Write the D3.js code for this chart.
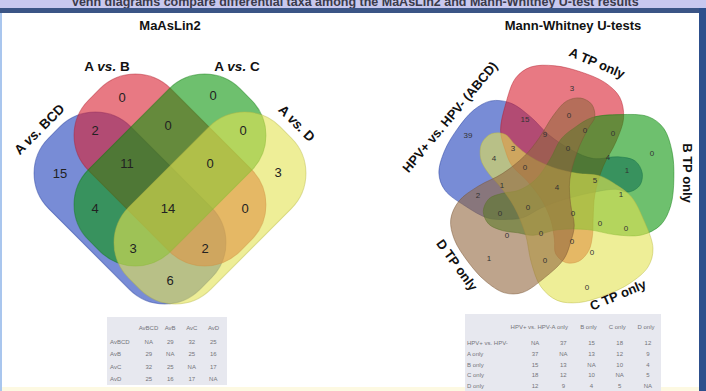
<!DOCTYPE html>
<html>
<head>
<meta charset="utf-8">
<script src="https://cdn.jsdelivr.net/npm/d3@7"></script>
<style>
  html, body { margin: 0; padding: 0; background: #ffffff; }
  svg { display: block; }
</style>
</head>
<body>
<script>
// ---------- data ----------
// MaAsLin2: four comparison sets and the counts of their Venn regions
const maaslinSets = ["A vs. BCD", "A vs. B", "A vs. C", "A vs. D"];
const maaslinRegions = ["1000", "0100", "0010", "0001", "1100", "0110", "0011",
                        "1110", "0111", "1010", "1111", "0101", "1011", "1101", "1001"];
const maaslinCounts = [15, 0, 0, 3, 2, 0, 0, 11, 0, 4, 14, 0, 3, 2, 6];

// Mann-Whitney U-tests: five sets, region counts (read top to bottom)
const mwSets = ["HPV+ vs. HPV- (ABCD)", "A TP only", "B TP only", "C TP only", "D TP only"];
const mwCounts = [3, 15, 0, 39, 9, 0, 0, 0, 4, 3, 0, 4, 1, 0, 1, 4, 5, 2, 1,
                  0, 0, 0, 0, 0, 0, 0, 0, 0, 1, 0, 0];

// pairwise overlap tables
const maaslinTableCols = ["AvBCD", "AvB", "AvC", "AvD"];
const maaslinTableRows = ["AvBCD", "AvB", "AvC", "AvD"];
const maaslinTableValues = [
  ["NA", 29, 32, 25],
  [29, "NA", 25, 16],
  [32, 25, "NA", 17],
  [25, 16, 17, "NA"]
];
const mwTableCols = ["HPV+ vs. HPV-", "A only", "B only", "C only", "D only"];
const mwTableRows = ["HPV+ vs. HPV-", "A only", "B only", "C only", "D only"];
const mwTableValues = [
  ["NA", 37, 15, 18, 12],
  [37, "NA", 13, 12, 9],
  [15, 13, "NA", 10, 4],
  [18, 12, 10, "NA", 5],
  [12, 9, 4, 5, "NA"]
];

// ---------- styles & layout ----------
const W = 706, H = 391;
const FONT = "Liberation Sans, Arial, Helvetica, sans-serif";
const palette = {
  blue: "#1e3fba", red: "#d92030", green: "#0e960e", yellow: "#e3e352", brown: "#93683f"
};
const FILL_OPACITY = 0.6;

const svg = d3.select("body").append("svg")
  .attr("width", W).attr("height", H)
  .attr("font-family", FONT);

// page frame
svg.append("rect").attr("width", W).attr("height", H).attr("fill", "#ffffff");
svg.append("rect").attr("x", 0).attr("y", 0).attr("width", W).attr("height", 9).attr("fill", "#c8c8ef");
svg.append("text")
  .attr("x", 355).attr("y", 5.5).attr("text-anchor", "middle")
  .attr("font-size", 12.5).attr("font-weight", "bold").attr("fill", "#3a3a4a")
  .text("Venn diagrams compare differential taxa among the MaAsLin2 and Mann-Whitney U-test results");
svg.append("rect").attr("x", 0).attr("y", 8).attr("width", W).attr("height", 5).attr("fill", "#3b5586");
svg.append("rect").attr("x", 0).attr("y", 13).attr("width", 2).attr("height", H - 13).attr("fill", "#a9c6ee");
svg.append("rect").attr("x", 699).attr("y", 8).attr("width", 7).attr("height", H - 8).attr("fill", "#2d4f8c");
svg.append("rect").attr("x", 2).attr("y", 387).attr("width", 697).attr("height", 4).attr("fill", "#fdf9e2");

// panel titles
svg.append("text").attr("x", 170).attr("y", 30).attr("text-anchor", "middle")
  .attr("font-size", 13).attr("font-weight", "bold").attr("fill", "#111").text("MaAsLin2");
svg.append("text").attr("x", 573).attr("y", 30).attr("text-anchor", "middle")
  .attr("font-size", 13).attr("font-weight", "bold").attr("fill", "#111").text("Mann-Whitney U-tests");

function strokeOf(c) { return d3.color(c).darker(0.6).formatHex(); }

// ---------- left: four-set diagram ----------
(function drawMaaslin() {
  const x = d3.scaleLinear().domain([-140, 140]).range([30, 310]);
  const y = d3.scaleLinear().domain([-140, 140]).range([45, 325]);
  const g = svg.append("g");

  // each set is a rounded bar tilted by 45 degrees
  const setColors = [palette.blue, palette.red, palette.green, palette.yellow];
  const setGeom = [
    { cx: -40, cy: 23, rot: 45 },
    { cx: 0, cy: -15, rot: 45 },
    { cx: 0, cy: -15, rot: -45 },
    { cx: 40, cy: 23, rot: -45 }
  ];
  const barLen = 214, barWid = 116, barR = 50;

  maaslinSets.forEach((name, i) => {
    const s = setGeom[i];
    g.append("rect")
      .attr("x", -barLen / 2).attr("y", -barWid / 2)
      .attr("width", barLen).attr("height", barWid)
      .attr("rx", barR).attr("ry", barR)
      .attr("transform", `translate(${x(s.cx)},${y(s.cy)}) rotate(${s.rot})`)
      .attr("fill", setColors[i]).attr("fill-opacity", FILL_OPACITY)
      .attr("stroke", strokeOf(setColors[i])).attr("stroke-opacity", 0.45).attr("stroke-width", 1);
  });

  // label anchors of every region
  const regionPos = {
    "1000": [-110, -12], "0100": [-48, -88], "0010": [43, -90], "0001": [108, -13],
    "1100": [-75, -55], "0110": [-2, -60], "0011": [73, -55],
    "1110": [-43, -22], "0111": [40, -22],
    "1010": [-75, 23], "1111": [-2, 23], "0101": [75, 23],
    "1011": [-37, 63], "1101": [35, 63], "1001": [0, 95]
  };
  maaslinRegions.forEach((key, i) => {
    const p = regionPos[key];
    g.append("text")
      .attr("x", x(p[0])).attr("y", y(p[1]))
      .attr("text-anchor", "middle").attr("dominant-baseline", "central")
      .attr("font-size", 13).attr("fill", "#222")
      .text(maaslinCounts[i]);
  });

  // set names
  const namePos = [
    { x: -131, y: -56, rot: -45 },
    { x: -63, y: -119, rot: 0 },
    { x: 67, y: -119, rot: 0 },
    { x: 127, y: -62, rot: 45 }
  ];
  maaslinSets.forEach((name, i) => {
    const p = namePos[i];
    const t = g.append("text")
      .attr("transform", `translate(${x(p.x)},${y(p.y)}) rotate(${p.rot})`)
      .attr("text-anchor", "middle").attr("dominant-baseline", "central")
      .attr("font-size", 13.5).attr("font-weight", "bold").attr("fill", "#111");
    const parts = name.split("vs.");
    t.append("tspan").text(parts[0]);
    t.append("tspan").attr("font-style", "italic").text("vs.");
    t.append("tspan").text(parts[1]);
  });
})();

// ---------- right: five-set diagram ----------
(function drawMannWhitney() {
  const cx = 553, cy = 186;
  const x = d3.scaleLinear().domain([-140, 140]).range([cx - 140, cx + 140]);
  const y = d3.scaleLinear().domain([-140, 140]).range([cy - 140, cy + 140]);
  const g = svg.append("g");

  // one blob outline (body on +x, arm bending back to a small lobe)
  const blob = [
    [28, -56], [46, -64], [74, -64], [102, -59], [116, -46], [122, -22], [121, 5], [115, 32],
    [103, 50], [83, 58], [57, 55], [30, 47], [0, 44], [-25, 47], [-42, 51], [-58, 51],
    [-71, 43], [-75, 30], [-68, 18], [-54, 14], [-36, 6], [-17, -8], [0, -27], [13, -46]
  ];
  const setColors = [palette.blue, palette.red, palette.green, palette.yellow, palette.brown];
  // per set: turn angle, size, and how far its end lobe is pulled
  const setShape = [
    { rot: 208, k: 0.92, lobe: [-8, 15] },
    { rot: 281, k: 0.97, lobe: [0, -2] },
    { rot: -6, k: 1.0, lobe: [3, -12] },
    { rot: 62, k: 1.0, lobe: [0, 0] },
    { rot: 136, k: 0.94, lobe: [-15, 4] }
  ];
  const line = d3.line().x(d => x(d[0])).y(d => y(d[1]))
    .curve(d3.curveCatmullRomClosed.alpha(0.5));

  mwSets.forEach((name, i) => {
    const s = setShape[i];
    const a = s.rot * Math.PI / 180;
    const pts = blob.map(([u, v]) => {
      const w = Math.max(0, Math.min(1, (-u - 25) / 25));
      const uu = u + w * s.lobe[0], vv = v + w * s.lobe[1];
      return [
        s.k * (uu * Math.cos(a) - vv * Math.sin(a)),
        s.k * (uu * Math.sin(a) + vv * Math.cos(a))
      ];
    });
    g.append("path").attr("d", line(pts))
      .attr("fill", setColors[i]).attr("fill-opacity", FILL_OPACITY)
      .attr("stroke", strokeOf(setColors[i])).attr("stroke-opacity", 0.45).attr("stroke-width", 1);
  });

  // region label anchors, same order as mwCounts
  const labelPos = [
    [19, -98], [-28, -67], [16, -71], [-85, -51], [-8, -52], [32, -56], [60, -53], [99, -33],
    [-59, -28], [-40, -38], [15, -38], [55, -29], [74, -16], [-28, -19], [-51, -1], [4, 1],
    [42, -6], [-75, 9], [68, 8], [-25, 21], [-53, 27], [20, 27], [47, 37], [73, 42],
    [-46, 49], [-12, 47], [19, 55], [39, 66], [-64, 72], [-8, 74], [34, 101]
  ];
  mwCounts.forEach((v, i) => {
    g.append("text")
      .attr("x", x(labelPos[i][0])).attr("y", y(labelPos[i][1]))
      .attr("text-anchor", "middle").attr("dominant-baseline", "central")
      .attr("font-size", 8).attr("fill", "#333")
      .text(v);
  });

  // set names around the diagram
  const namePos = [
    { x: -103, y: -69, rot: -50 },
    { x: 44, y: -123, rot: 23 },
    { x: 134, y: -13, rot: 90 },
    { x: 65, y: 109, rot: -23 },
    { x: -96, y: 79, rot: 54 }
  ];
  mwSets.forEach((name, i) => {
    const p = namePos[i];
    g.append("text")
      .attr("transform", `translate(${x(p.x)},${y(p.y)}) rotate(${p.rot})`)
      .attr("text-anchor", "middle").attr("dominant-baseline", "central")
      .attr("font-size", 13).attr("font-weight", "bold").attr("fill", "#111")
      .text(name);
  });
})();

// ---------- overlap tables ----------
function drawTable(opts) {
  const g = svg.append("g").attr("font-size", opts.fontSize).attr("fill", "#74747a");
  g.append("rect").attr("x", opts.x0).attr("y", opts.y0)
    .attr("width", opts.x1 - opts.x0).attr("height", opts.y1 - opts.y0)
    .attr("fill", "#e7e8ef");
  const col = d3.scaleBand().domain(opts.cols).range(opts.colRange);
  const head = d3.scalePoint().domain(opts.cols).range(opts.headRange);
  const row = d3.scalePoint().domain(opts.rows).range(opts.rowRange);
  opts.cols.forEach(c => {
    g.append("text").attr("x", head(c)).attr("y", opts.headerY)
      .attr("text-anchor", "middle").attr("dominant-baseline", "central").text(c);
  });
  opts.rows.forEach((r, i) => {
    g.append("text").attr("x", opts.labelX).attr("y", row(r))
      .attr("dominant-baseline", "central").text(r);
    opts.values[i].forEach((v, j) => {
      g.append("text").attr("x", col(opts.cols[j]) + col.bandwidth() / 2).attr("y", row(r))
        .attr("text-anchor", "middle").attr("dominant-baseline", "central").text(v);
    });
  });
}

drawTable({
  cols: maaslinTableCols, rows: maaslinTableRows, values: maaslinTableValues,
  x0: 107, x1: 227, y0: 317, y1: 385, fontSize: 6,
  colRange: [138, 224], headRange: [148.5, 213.5], rowRange: [342, 379], headerY: 328, labelX: 110
});
drawTable({
  cols: mwTableCols, rows: mwTableRows, values: mwTableValues,
  x0: 465, x1: 661, y0: 314, y1: 391, fontSize: 6,
  colRange: [521, 662], headRange: [531, 646], rowRange: [343, 386], headerY: 327, labelX: 467
});
</script>
</body>
</html>
